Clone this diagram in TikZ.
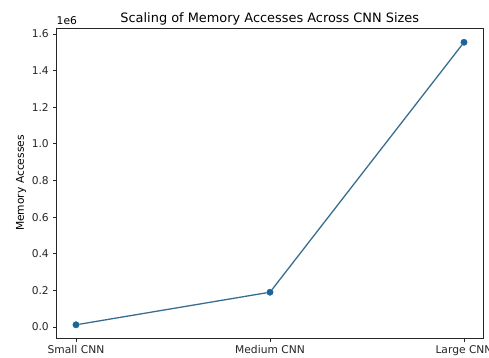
\documentclass[tikz,border=0pt]{standalone}
\usepackage{fontspec}
\setmainfont{DejaVu Sans}
\usepackage{xcolor}
\definecolor{LineBlue}{HTML}{1F77B4}
\definecolor{LineDark}{HTML}{3A6D8E}

\begin{document}
\begin{tikzpicture}[
  x=1pt, y=1pt,
  ticklbl/.style={font=\fontsize{10.7}{12}\selectfont, inner sep=0pt},
  spine/.style={line width=0.85pt, black!85},
  dot/.style={circle, fill=LineBlue!85!black, draw=LineBlue!85!black, inner sep=0pt, minimum size=6.4pt},
  dataline/.style={line width=1.3pt, LineDark, line join=round}
]
  \useasboundingbox (0,0) rectangle (489,358);

  % title, exponent and axis label
  \node[font=\fontsize{12.9}{15}\selectfont, anchor=base, inner sep=0pt] (title)
    at (269.75,335) {Scaling of Memory Accesses Across CNN Sizes};
  \node[ticklbl, anchor=base west] (expo) at (56.5,333) {1e6};
  \node[ticklbl, rotate=90] (ylbl) at (21,175) {Memory Accesses};

  % data axes: one x unit per network, one y unit per 1e6 accesses
  \begin{scope}[x=194pt, y=183.1pt, shift={(76pt,31pt)}]
    \draw[spine] (-0.1,-0.06) rectangle (2.1,1.63);

    \foreach \v/\t [count=\i] in {0/0.0, 0.2/0.2, 0.4/0.4, 0.6/0.6, 0.8/0.8,
                                  1.0/1.0, 1.2/1.2, 1.4/1.4, 1.6/1.6}
      \draw[spine] (-0.1,\v) -- ++(-3.7pt,0) node[ticklbl, left=3.7pt] (ytick\i) {\t};

    \foreach \c/\t/\n in {0/Small CNN/small, 1/Medium CNN/medium, 2/Large CNN/large}
      \draw[spine] (\c,-0.06) -- ++(0,-3.7pt) node[ticklbl, below=3.7pt] (xtick\n) {\t};

    % measured accesses
    \node[dot] (small)  at (0,0.012) {};
    \node[dot] (medium) at (1,0.190) {};
    \node[dot] (large)  at (2,1.555) {};
    \draw[dataline] (small) -- (medium) -- (large);
  \end{scope}
\end{tikzpicture}
\end{document}
